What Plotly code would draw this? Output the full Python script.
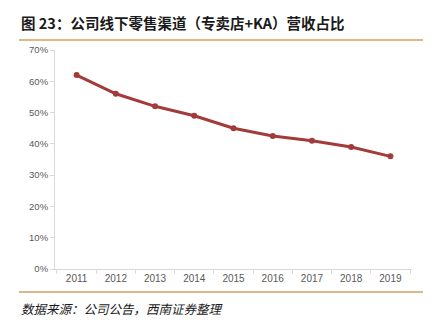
import plotly.graph_objects as go

years = ["2011", "2012", "2013", "2014", "2015", "2016", "2017", "2018", "2019"]
share = [62, 56, 52, 49, 45, 42.5, 41, 39, 36]
y_ticks = [0, 10, 20, 30, 40, 50, 60, 70]
y_tick_text = [f"{v}%" for v in y_ticks]

W, H = 437, 322
L, R, T, B = 55, 25, 50, 53

fig = go.Figure()
fig.add_trace(go.Scatter(
    x=years, y=share, mode="lines+markers",
    line=dict(color="#A23B3A", width=3),
    marker=dict(color="#A23B3A", size=6),
    showlegend=False, hoverinfo="skip",
))

def px_to_paper_x(px):
    return (px - L) / (W - L - R)

def px_to_paper_y(py):
    return (H - B - py) / (H - T - B)

fig.update_layout(
    width=W, height=H,
    margin=dict(l=L, r=R, t=T, b=B),
    paper_bgcolor="white", plot_bgcolor="white",
    font=dict(family="Liberation Sans, Arial, sans-serif", color="#595959", size=10),
    xaxis=dict(
        type="category", tickson="boundaries", ticks="outside", ticklen=4,
        tickcolor="#D9D9D9", showline=True, linecolor="#D9D9D9", linewidth=1,
        showgrid=False, tickfont=dict(size=10, color="#595959"),
    ),
    yaxis=dict(
        range=[0, 70], tickmode="array", tickvals=y_ticks, ticktext=y_tick_text,
        ticks="outside", ticklen=4, tickcolor="#D9D9D9", showline=True,
        linecolor="#D9D9D9", linewidth=1, showgrid=False, zeroline=False,
        tickfont=dict(size=9.5, color="#595959"),
    ),
    shapes=[
        dict(type="line", xref="paper", yref="paper",
             x0=px_to_paper_x(19), x1=px_to_paper_x(423),
             y0=px_to_paper_y(40), y1=px_to_paper_y(40),
             line=dict(color="#D4A060", width=1.5)),
        dict(type="line", xref="paper", yref="paper",
             x0=px_to_paper_x(19), x1=px_to_paper_x(423),
             y0=px_to_paper_y(292), y1=px_to_paper_y(292),
             line=dict(color="#D4A060", width=1.5)),
    ],
    annotations=[
        dict(text="<b>图 23：公司线下零售渠道（专卖店+KA）营收占比</b>",
             xref="paper", yref="paper",
             x=px_to_paper_x(19), y=px_to_paper_y(22),
             xanchor="left", yanchor="middle", showarrow=False,
             font=dict(family="Noto Sans CJK SC", size=14.5, color="#1a1a1a")),
        dict(text="<i>数据来源：公司公告，西南证券整理</i>",
             xref="paper", yref="paper",
             x=px_to_paper_x(19), y=px_to_paper_y(308),
             xanchor="left", yanchor="middle", showarrow=False,
             font=dict(family="Noto Sans CJK SC", size=12.5, color="#1a1a1a")),
    ],
)

fig.write_html("out.html")
